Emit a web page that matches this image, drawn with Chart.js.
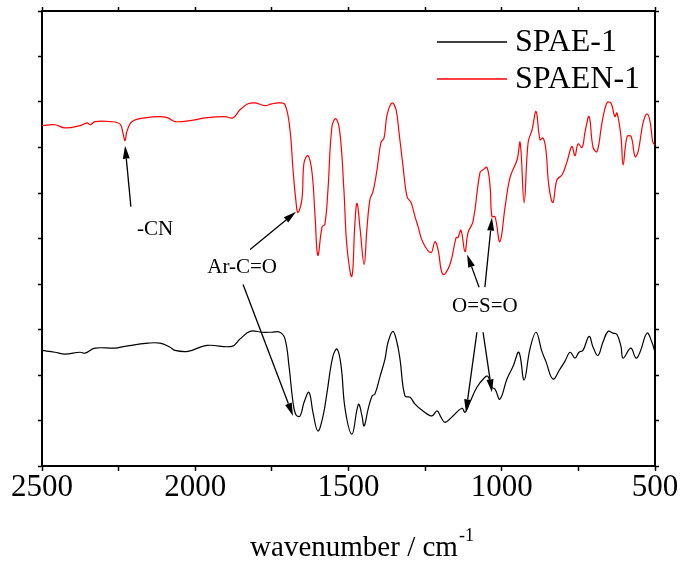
<!DOCTYPE html>
<html>
<head>
<meta charset="utf-8">
<script src="https://cdn.jsdelivr.net/npm/chart.js@4.4.0/dist/chart.umd.min.js"></script>
<style>
  html, body { margin: 0; padding: 0; background: #fff; }
</style>
</head>
<body>
<canvas id="irChart" width="684" height="571"></canvas>
<script>
// FTIR spectra, transmittance in arbitrary units (curves offset)
const seriesNames = ["SPAE-1", "SPAEN-1"];
const seriesColors = ["#000000", "#ff0000"];

// SPAE-1 (black, lower)
const spaeWn = [2500,2458,2425,2376,2360,2327,2262,2229,2154,2115,2082,2066,2024,1962,1880,1854,1821,1782,1750,1724,
  1707,1694,1681,1671,1658,1645,1629,1616,1600,1583,1570,1551,1537,1524,1511,1489,1472,1466,1456,1449,
  1436,1423,1414,1397,1381,1371,1355,1342,1332,1316,1299,1283,1257,1228,1211,1198,1185,1159,1130,1120,
  1104,1081,1055,1045,1032,1022,1006,983,963,944,927,908,888,869,856,833,810,794,777,761,
  748,735,715,702,686,670,653,637,624,611,604,579,562,549,526,510,500];
const spaeT = [2.54,2.50,2.46,2.50,2.48,2.59,2.59,2.63,2.70,2.70,2.61,2.54,2.52,2.65,2.63,2.79,2.96,2.94,2.94,2.94,
  2.79,2.19,1.40,1.12,1.10,1.40,1.62,1.18,0.77,1.10,1.62,2.41,2.57,2.19,1.25,0.70,1.25,1.36,1.10,0.88,
  1.25,1.54,1.58,1.97,2.35,2.72,2.96,2.72,2.35,1.54,1.51,1.36,1.21,1.10,1.21,1.07,0.96,1.10,1.27,1.18,
  1.40,1.73,1.95,1.97,1.73,1.69,1.47,1.91,2.19,2.50,1.89,2.57,2.94,2.52,2.30,1.91,2.13,2.30,2.50,2.37,
  2.50,2.54,2.85,2.61,2.43,2.72,2.96,2.92,2.89,2.63,2.37,2.59,2.37,2.50,2.92,2.72,2.50];

// SPAEN-1 (red, upper)
const spaenWn = [2500,2458,2425,2376,2353,2343,2327,2278,2246,2236,2229,2223,2206,2164,2115,2089,2066,2017,1968,1903,
  1877,1854,1828,1805,1772,1750,1727,1707,1691,1681,1671,1665,1652,1645,1632,1619,1609,1600,1586,1577,
  1567,1554,1541,1528,1515,1505,1489,1479,1472,1462,1449,1440,1430,1420,1407,1394,1384,1374,1358,1345,
  1335,1322,1309,1296,1283,1273,1257,1231,1218,1208,1192,1169,1149,1143,1133,1120,1110,1094,1071,1061,
  1048,1038,1032,1022,1006,989,973,950,940,927,914,901,888,875,865,856,846,833,820,803,
  787,771,761,751,738,728,715,702,689,673,657,644,631,624,611,604,591,578,565,555,
  539,526,516,507,500];
const spaenT = [7.48,7.50,7.43,7.48,7.54,7.50,7.57,7.57,7.52,7.32,7.15,7.35,7.57,7.65,7.68,7.65,7.57,7.59,7.65,7.68,
  7.65,7.83,7.96,7.98,7.92,7.96,7.98,7.94,7.39,6.51,5.79,5.57,5.86,6.67,6.82,6.45,5.48,4.63,5.26,5.31,
  6.07,7.46,7.63,7.32,6.07,4.82,4.17,5.35,5.77,5.20,4.43,5.20,5.86,6.03,6.51,7.11,7.21,7.72,7.98,7.83,
  7.32,6.58,5.92,5.79,5.48,5.26,4.91,4.69,4.93,4.76,4.21,4.43,5.02,5.02,5.18,4.71,5.13,5.37,6.45,6.51,
  6.56,6.14,5.48,5.48,4.93,5.70,6.34,6.73,7.11,5.79,7.11,7.39,7.79,7.17,7.21,6.95,6.14,5.79,6.29,6.40,
  6.69,7.02,6.82,7.08,7.00,7.35,7.68,7.00,6.91,7.54,7.98,7.98,7.68,7.76,7.24,6.62,7.24,7.24,6.80,6.91,
  7.54,7.74,7.57,7.11,7.06];

const xTicks = [2500, 2000, 1500, 1000, 500];

// peak labels and arrows, in data units [wavenumber, T]
const noteLabels = ["-CN", "Ar-C=O", "O=S=O"];
const notePos = [[2131, 5.20], [1847, 4.36], [1055, 3.51]];
const arrowLines = [
  [2210, 5.70, 2229, 7.04],
  [1821, 4.76, 1671, 5.59],
  [1844, 3.99, 1681, 1.10],
  [1074, 3.93, 1113, 4.65],
  [1055, 3.93, 1032, 5.46],
  [1081, 2.94, 1117, 1.18],
  [1061, 2.94, 1032, 1.62]
];

const serif = '"Liberation Serif", "Times New Roman", serif';

function toPoints(xs, ys) {
  return xs.map((x, i) => ({ x: x, y: ys[i] }));
}

function drawArrow(ctx, x1, y1, x2, y2) {
  const ang = Math.atan2(y2 - y1, x2 - x1);
  const len = 13, half = 3.5;
  const bx = x2 - len * Math.cos(ang), by = y2 - len * Math.sin(ang);
  ctx.beginPath();
  ctx.moveTo(x1, y1);
  ctx.lineTo(bx, by);
  ctx.stroke();
  ctx.beginPath();
  ctx.moveTo(x2, y2);
  ctx.lineTo(bx + half * Math.sin(ang), by - half * Math.cos(ang));
  ctx.lineTo(bx - half * Math.sin(ang), by + half * Math.cos(ang));
  ctx.closePath();
  ctx.fill();
}

const extras = {
  id: "extras",
  afterDatasetsDraw(chart) {
    const ctx = chart.ctx;
    const xs = chart.scales.x, ys = chart.scales.y;
    const area = chart.chartArea;
    ctx.save();
    ctx.strokeStyle = "#000";
    ctx.fillStyle = "#000";
    ctx.lineWidth = 1.3;
    arrowLines.forEach(a => {
      drawArrow(ctx, xs.getPixelForValue(a[0]), ys.getPixelForValue(a[1]),
        xs.getPixelForValue(a[2]), ys.getPixelForValue(a[3]));
    });
    ctx.font = "21px " + serif;
    ctx.textAlign = "center";
    ctx.textBaseline = "middle";
    noteLabels.forEach((t, i) => {
      ctx.fillText(t, xs.getPixelForValue(notePos[i][0]), ys.getPixelForValue(notePos[i][1]));
    });

    // legend
    ctx.font = "32px " + serif;
    ctx.textAlign = "left";
    chart.data.datasets.forEach((ds, i) => {
      const y = 42 + i * 37;
      ctx.strokeStyle = ds.borderColor;
      ctx.lineWidth = 1.3;
      ctx.beginPath();
      ctx.moveTo(437, y);
      ctx.lineTo(507, y);
      ctx.stroke();
      ctx.fillStyle = "#000";
      ctx.fillText(ds.label, 515, y + 1);
    });

    // x axis title with superscript
    const main = "wavenumber / cm", sup = "-1";
    ctx.font = "29px " + serif;
    const w1 = ctx.measureText(main).width;
    ctx.font = "18px " + serif;
    const w2 = ctx.measureText(sup).width;
    const cx = (area.left + area.right) / 2 + 13;
    const x0 = cx - (w1 + w2) / 2;
    ctx.textBaseline = "alphabetic";
    ctx.font = "29px " + serif;
    ctx.fillText(main, x0, 556);
    ctx.font = "18px " + serif;
    ctx.fillText(sup, x0 + w1 + 1, 541);
    ctx.restore();
  }
};

const axisGrid = { drawOnChartArea: false, drawTicks: true, tickColor: "#000", tickWidth: 1.5 };
const axisBorder = { color: "#000", width: 2 };

new Chart("irChart", {
  type: "line",
  data: {
    datasets: [
      {
        label: seriesNames[0],
        data: toPoints(spaeWn, spaeT),
        borderColor: seriesColors[0],
        borderWidth: 1.2,
        pointRadius: 0,
        fill: false,
        tension: 0.4
      },
      {
        label: seriesNames[1],
        data: toPoints(spaenWn, spaenT),
        borderColor: seriesColors[1],
        borderWidth: 1.2,
        pointRadius: 0,
        fill: false,
        tension: 0.4
      }
    ]
  },
  options: {
    responsive: false,
    animation: false,
    devicePixelRatio: 1,
    layout: { padding: 0 },
    plugins: {
      legend: { display: false },
      title: { display: false },
      tooltip: { enabled: false }
    },
    scales: {
      x: {
        type: "linear",
        position: "bottom",
        reverse: true,
        min: 500,
        max: 2500,
        ticks: {
          stepSize: 250,
          autoSkip: false,
          maxRotation: 0,
          padding: 1,
          color: "#000",
          font: { family: serif, size: 31, lineHeight: 1 },
          callback: v => xTicks.includes(v) ? String(v) : ""
        },
        grid: Object.assign({ tickLength: 5 }, axisGrid),
        border: axisBorder,
        afterFit: s => { s.height = 105; }
      },
      xTop: {
        type: "linear",
        position: "top",
        reverse: true,
        min: 500,
        max: 2500,
        ticks: { stepSize: 250, display: false },
        grid: Object.assign({ tickLength: 4 }, axisGrid),
        border: axisBorder,
        afterFit: s => { s.height = 11; }
      },
      y: {
        position: "left",
        min: 0,
        max: 10,
        ticks: { stepSize: 1, display: false },
        grid: Object.assign({ tickLength: 4 }, axisGrid),
        border: axisBorder,
        afterFit: s => { s.width = 42; }
      },
      yRight: {
        position: "right",
        min: 0,
        max: 10,
        ticks: { stepSize: 1, display: false },
        grid: Object.assign({ tickLength: 4 }, axisGrid),
        border: axisBorder,
        afterFit: s => { s.width = 29; }
      }
    }
  },
  plugins: [extras]
});
</script>
</body>
</html>
